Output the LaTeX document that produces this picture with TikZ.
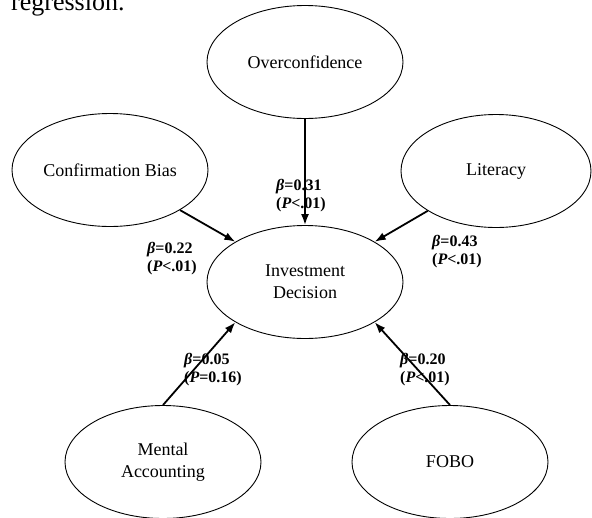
\documentclass[tikz,border=0pt]{standalone}
\usepackage{fontspec}
\setmainfont{Liberation Serif}
\usetikzlibrary{shapes.geometric,arrows.meta}
\begin{document}
\begin{tikzpicture}[x=1pt,y=-1pt,
  construct/.style={draw=black,line width=0.9pt,ellipse,minimum width=196pt,minimum height=113pt,inner sep=0pt,align=center,font=\fontsize{18}{22}\selectfont},
  link/.style={line width=1.8pt,-{Latex[length=11pt,width=8pt]}},
  coef/.style={align=left,anchor=west,inner sep=0pt,font=\fontsize{16}{18}\selectfont\bfseries}
]
\useasboundingbox (0,0) rectangle (592,517);
\clip (0,0) rectangle (592,517);
\node[anchor=base west,inner sep=0pt,font=\fontsize{26}{28}\selectfont] (reg) at (11,10) {regression.};
\node[construct] (over) at (305,62) {Overconfidence};
\node[construct] (conf) at (110,170) {Confirmation Bias};
\node[construct,minimum width=190pt] (lit) at (496,171) {Literacy};
\node[construct] (inv) at (305,282) {Investment\\Decision};
\node[construct] (ment) at (163,462) {Mental\\Accounting};
\node[construct] (fobo) at (450,462) {FOBO};
\draw[link] (over) -- (inv);
\draw[link] (conf) -- (inv.150);
\draw[link] (lit) -- (inv.30);
\draw[link] (ment.north) -- (inv.210);
\draw[link] (fobo.north) -- (inv.330);
\node[coef] (c1) at (276,196) {{\itshape β}=0.31\\({\itshape P}<.01)};
\node[coef] (c2) at (147,259) {{\itshape β}=0.22\\({\itshape P}<.01)};
\node[coef] (c3) at (432,252) {{\itshape β}=0.43\\({\itshape P}<.01)};
\node[coef] (c4) at (184,370) {{\itshape β}=0.05\\({\itshape P}=0.16)};
\node[coef] (c5) at (400,370) {{\itshape β}=0.20\\({\itshape P}<.01)};
\end{tikzpicture}
\end{document}
